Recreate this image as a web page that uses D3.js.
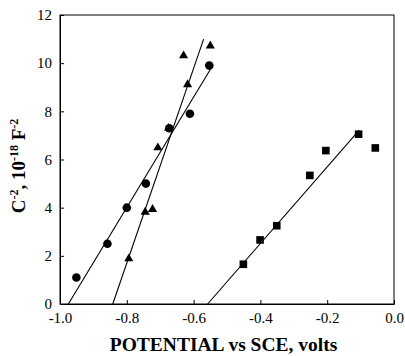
<!DOCTYPE html>
<html><head><meta charset="utf-8">
<script src="https://cdn.jsdelivr.net/npm/d3@7"></script>
<style>body{margin:0;background:#fff}svg{display:block}</style>
</head><body>
<svg id="chart" width="405" height="356"></svg>
<script>
// Mott–Schottky data: C^-2 (10^-18 F^-2) vs potential (V vs SCE)
const circleX = [-0.951, -0.858, -0.800, -0.743, -0.673, -0.611, -0.553];
const circleY = [1.10, 2.50, 4.00, 5.00, 7.30, 7.90, 9.90];
const triangleX = [-0.794, -0.745, -0.723, -0.707, -0.675, -0.618, -0.630, -0.550];
const triangleY = [1.88, 3.82, 3.93, 6.49, 7.30, 9.11, 10.31, 10.72];
const squareX = [-0.451, -0.401, -0.351, -0.252, -0.204, -0.106, -0.056];
const squareY = [1.65, 2.66, 3.25, 5.34, 6.37, 7.05, 6.48];
// fitted lines: [x0, x1], [y0, y1]
const circleFitX = [-0.975, -0.545], circleFitY = [0, 9.85];
const triangleFitX = [-0.842, -0.570], triangleFitY = [0, 11.0];
const squareFitX = [-0.558, -0.104], squareFitY = [0, 7.22];
const xTicks = [-1.0, -0.8, -0.6, -0.4, -0.2, 0.0];
const yTicks = [0, 2, 4, 6, 8, 10, 12];

const svg = d3.select("#chart");
const m = {l: 60, r: 394, t: 15, b: 304};
const x = d3.scaleLinear().domain([-1, 0]).range([m.l, m.r]);
const y = d3.scaleLinear().domain([0, 12]).range([m.b, m.t]);

// frame
svg.append("rect").attr("x", m.l).attr("y", m.t)
  .attr("width", m.r - m.l).attr("height", m.b - m.t)
  .attr("fill", "none").attr("stroke", "#000").attr("stroke-width", 1);

const font = "'Liberation Serif', 'Times New Roman', serif";
const xAxis = svg.append("g").attr("transform", `translate(0,${m.b})`)
  .call(d3.axisBottom(x).tickValues(xTicks).tickSizeInner(-4).tickSizeOuter(0).tickPadding(8));
const yAxis = svg.append("g").attr("transform", `translate(${m.l},0)`)
  .call(d3.axisLeft(y).tickValues(yTicks).tickFormat(d3.format("d")).tickSizeInner(-4).tickSizeOuter(0).tickPadding(8));
[xAxis, yAxis].forEach(g => {
  g.attr("font-family", font).attr("font-size", 15);
  g.select(".domain").attr("stroke", "#000");
  g.selectAll(".tick line").attr("stroke", "#000");
  g.selectAll(".tick text").attr("fill", "#000");
});
xAxis.selectAll(".tick text").text(d => d3.format(".1f")(Math.abs(d)) === "0.0" ? "0.0" : "-" + d3.format(".1f")(Math.abs(d)));

// fit lines
const line = d3.line().x(d => x(d[0])).y(d => y(d[1]));
[[circleFitX, circleFitY], [triangleFitX, triangleFitY], [squareFitX, squareFitY]].forEach(([fx, fy]) => {
  svg.append("path").attr("d", line(d3.zip(fx, fy)))
    .attr("fill", "none").attr("stroke", "#000").attr("stroke-width", 1.1);
});

// markers
svg.append("g").selectAll("circle").data(d3.zip(circleX, circleY)).join("circle")
  .attr("cx", d => x(d[0])).attr("cy", d => y(d[1])).attr("r", 4.3).attr("fill", "#000");
svg.append("g").selectAll("path").data(d3.zip(triangleX, triangleY)).join("path")
  .attr("transform", d => `translate(${x(d[0])},${y(d[1])})`)
  .attr("d", d3.symbol(d3.symbolTriangle, 36)).attr("fill", "#000");
svg.append("g").selectAll("rect").data(d3.zip(squareX, squareY)).join("rect")
  .attr("x", d => x(d[0]) - 3.8).attr("y", d => y(d[1]) - 3.8)
  .attr("width", 7.6).attr("height", 7.6).attr("fill", "#000");

// axis titles
svg.append("text").attr("x", 223.5).attr("y", 351)
  .attr("text-anchor", "middle").attr("font-family", font).attr("font-weight", "bold").attr("font-size", 19.5)
  .text("POTENTIAL vs SCE, volts");
const yt = svg.append("text").attr("transform", `translate(25,166) rotate(-90)`)
  .attr("text-anchor", "middle").attr("font-family", font).attr("font-weight", "bold").attr("font-size", 19);
yt.append("tspan").text("C");
yt.append("tspan").attr("dy", -7).attr("font-size", 12).text("-2");
yt.append("tspan").attr("dy", 7).text(", 10");
yt.append("tspan").attr("dy", -7).attr("font-size", 12).text("-18");
yt.append("tspan").attr("dy", 7).text(" F");
yt.append("tspan").attr("dy", -7).attr("font-size", 12).text("-2");
</script>
</body></html>
